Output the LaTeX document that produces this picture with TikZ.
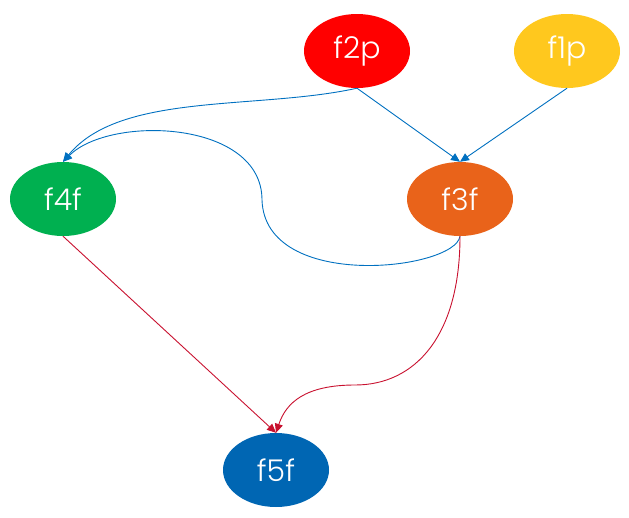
\documentclass[tikz,border=0pt]{standalone}
\usepackage{fontspec}
\setmainfont{Poppins}[UprightFont=* Light]
\usetikzlibrary{arrows.meta,shapes.geometric}
\definecolor{redp}{RGB}{255,0,0}
\definecolor{yellowp}{RGB}{255,200,30}
\definecolor{greenf}{RGB}{0,176,80}
\definecolor{orangef}{RGB}{233,99,26}
\definecolor{bluef}{RGB}{0,102,179}
\definecolor{linkblue}{RGB}{0,112,192}
\definecolor{linkred}{RGB}{200,16,46}

\begin{document}
\begin{tikzpicture}[x=1pt, y=-1pt]
    % Define styles
    \tikzstyle{func} = [ellipse, minimum width=106pt, minimum height=74pt, inner sep=0pt, text=white, font=\fontsize{30}{32}\selectfont]
    \tikzstyle{bluearrow} = [draw=linkblue, line width=0.9pt, -{Triangle[length=9pt,width=8pt]}]
    \tikzstyle{redarrow} = [draw=linkred, line width=0.9pt, -{Triangle[length=9pt,width=8pt]}]

    \useasboundingbox (0,0) rectangle (629,517);

    % Nodes
    \node (f2p) [func, fill=redp] at (357,51) {f2p};
    \node (f1p) [func, fill=yellowp] at (567,51) {f1p};
    \node (f4f) [func, fill=greenf] at (63,199) {f4f};
    \node (f3f) [func, fill=orangef] at (460,199) {f3f};
    \node (f5f) [func, fill=bluef] at (276,470) {f5f};
    \coordinate (loopbend) at (262,200);
    \coordinate (dropbend) at (355,385);

    % Arrows
    \draw [bluearrow] (f2p.south) -- (f3f.north);
    \draw [bluearrow] (f1p.south) -- (f3f.north);
    \draw [bluearrow] (f2p.south) .. controls +(-100,22) and +(57,-70) .. (f4f.north);
    \draw [bluearrow] (f3f.south) .. controls +(-5,34) and +(3,92) .. (loopbend)
        .. controls +(0,-80) and +(47,-47) .. (f4f.north);
    \draw [redarrow] (f4f.south) -- (f5f.north);
    \draw [redarrow] (f3f.south) .. controls +(0,100) and +(60,0) .. (dropbend)
        .. controls +(-50,0) and +(10,-30) .. (f5f.north);
\end{tikzpicture}
\end{document}
